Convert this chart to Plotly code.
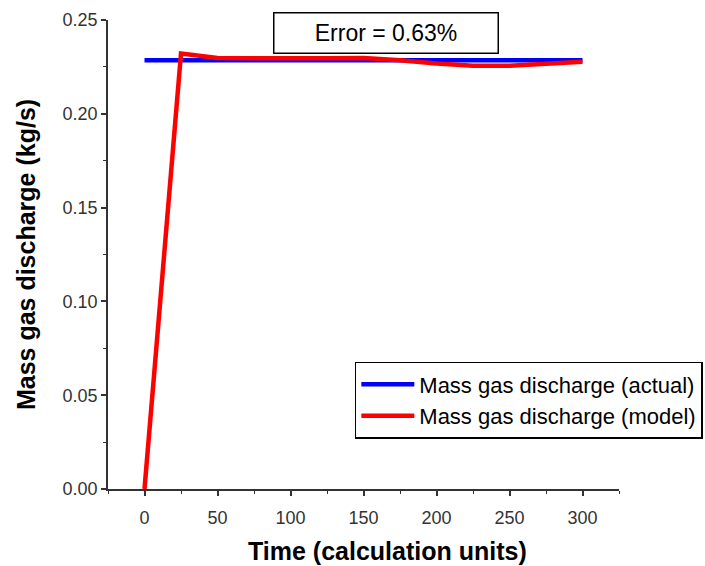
import plotly.graph_objects as go

time_actual = [0, 300]
discharge_actual = [0.2285, 0.2285]

time_model = [0, 25, 50, 75, 100, 125, 150, 175, 200, 225, 250, 275, 300]
discharge_model = [0.0, 0.2321, 0.2297, 0.2295, 0.2294, 0.2296, 0.2297, 0.2286, 0.2268, 0.2256, 0.2256, 0.2266, 0.2277]

x_ticks = [0, 50, 100, 150, 200, 250, 300]
y_ticks = [0.00, 0.05, 0.10, 0.15, 0.20, 0.25]
y_tick_labels = ["0.00", "0.05", "0.10", "0.15", "0.20", "0.25"]

fig = go.Figure()
fig.add_trace(go.Scatter(x=time_actual, y=discharge_actual, mode="lines",
                         name="Mass gas discharge (actual)",
                         line=dict(color="#0000ff", width=4.5)))
fig.add_trace(go.Scatter(x=time_model, y=discharge_model, mode="lines",
                         name="Mass gas discharge (model)",
                         line=dict(color="#ff0000", width=4.5)))

axis_common = dict(showgrid=False, zeroline=False, showline=True, linecolor="#333333",
                   linewidth=1.5, ticks="outside", ticklen=5, tickwidth=1.5, tickcolor="#333333",
                   tickfont=dict(family="Arial, Liberation Sans", size=18, color="#333333"))

fig.update_xaxes(range=[-25, 325], tickvals=x_ticks, ticklabelstandoff=7,
                 minor=dict(ticks="outside", dtick=25, tick0=0, ticklen=3, tickcolor="#333333", tickwidth=1.2),
                 **axis_common)
fig.update_yaxes(range=[0, 0.25], tickvals=y_ticks, ticktext=y_tick_labels,
                 minor=dict(ticks="outside", dtick=0.025, tick0=0, ticklen=3, tickcolor="#333333", tickwidth=1.2),
                 title=dict(text="<b>Mass gas discharge (kg/s)</b>",
                            font=dict(family="Arial, Liberation Sans", size=25, color="black"),
                            standoff=20),
                 **axis_common)

fig.add_annotation(xref="paper", yref="paper", x=0.545, y=0.973, xanchor="center", yanchor="middle",
                   text="Error = 0.63%", showarrow=False,
                   font=dict(family="Arial, Liberation Sans", size=23, color="black"),
                   bordercolor="black", borderwidth=1.5, bgcolor="white", width=221, height=37)

fig.add_annotation(xref="paper", yref="paper", x=0.547, y=-0.133, xanchor="center", yanchor="middle",
                   text="<b>Time (calculation units)</b>", showarrow=False,
                   font=dict(family="Arial, Liberation Sans", size=25, color="black"))

fig.update_layout(
    width=705, height=566,
    margin=dict(l=108, r=86, t=20, b=77, autoexpand=False),
    paper_bgcolor="white", plot_bgcolor="white",
    showlegend=True,
    legend=dict(x=0.483, y=0.271, xanchor="left", yanchor="top",
                bordercolor="black", borderwidth=1.5, bgcolor="white",
                font=dict(family="Arial, Liberation Sans", size=22, color="black"),
                itemwidth=53, tracegroupgap=0),
)

fig.write_html("out.html")
